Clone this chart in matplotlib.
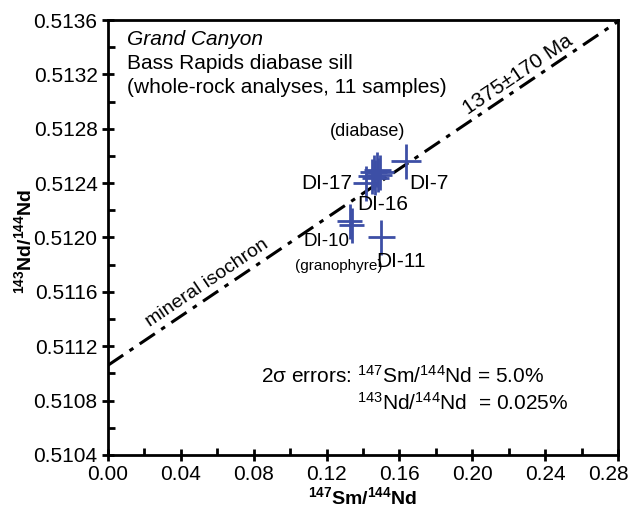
import numpy as np
import matplotlib
matplotlib.use('Agg')
import matplotlib.pyplot as plt
from matplotlib.ticker import MultipleLocator, FormatStrFormatter
from matplotlib.transforms import ScaledTranslation

plt.rcParams['font.family'] = ['Liberation Sans', 'DejaVu Sans']
plt.rcParams['mathtext.default'] = 'regular'

# Sm-Nd whole-rock data
sm_nd = [0.1414, 0.1447, 0.1458, 0.1468, 0.1479, 0.1485, 0.1496,  # diabase cluster
         0.1638,   # DI-7
         0.1501,   # DI-11
         0.1326, 0.1337]  # granophyre (DI-10)
nd_nd = [0.51240, 0.51245, 0.51248, 0.51244, 0.51250, 0.51246, 0.51248,
         0.51256,
         0.51200,
         0.51212, 0.51209]
sm_err_pct = 5.0
nd_err_pct = 0.025

age_ma = 1375
decay = 6.54e-12
intercept = 0.51106

x_ticks = [0.00, 0.04, 0.08, 0.12, 0.16, 0.20, 0.24, 0.28]
y_ticks = [0.5104, 0.5108, 0.5112, 0.5116, 0.5120, 0.5124, 0.5128, 0.5132, 0.5136]

blue = '#3d4fa6'

fig = plt.figure(figsize=(6.29, 5.07), dpi=100)
ax = fig.add_axes([108 / 629, 1 - 455 / 507, 510 / 629, 435 / 507])
ax.set_xlim(x_ticks[0], x_ticks[-1])
ax.set_ylim(y_ticks[0], y_ticks[-1])

x = np.array(sm_nd)
y = np.array(nd_nd)
ax.errorbar(x, y, xerr=x * sm_err_pct / 100, yerr=y * nd_err_pct / 100,
            fmt='none', ecolor=blue, elinewidth=2, capsize=0, zorder=3)

# isochron
slope = np.exp(decay * age_ma * 1e6) - 1
xl = np.array([0, 0.28])
ax.plot(xl, intercept + slope * xl, color='black', lw=2.2,
        linestyle=(0, (6, 2.5, 1.5, 2.5)), zorder=2)

# angle of the isochron on screen
p0 = ax.transData.transform((0, intercept))
p1 = ax.transData.transform((0.28, intercept + slope * 0.28))
ang = np.degrees(np.arctan2(p1[1] - p0[1], p1[0] - p0[0]))
for xt, txt, off, fs in [(0.058, 'mineral isochron', 3.0, 14), (0.229, '1375\u00b1170 Ma', 1.0, 15)]:
    ax.annotate(txt, xy=(xt, intercept + slope * xt), xytext=(-1.5, off),
                textcoords='offset points', rotation=ang, rotation_mode='anchor',
                ha='center', va='bottom', fontsize=fs)

# header text
ax.text(0.0105, 0.51346, 'Grand Canyon', style='italic', fontsize=15, va='center')
ax.text(0.0105, 0.51328, 'Bass Rapids diabase sill', fontsize=15, va='center')
ax.text(0.0105, 0.51310, '(whole-rock analyses, 11 samples)', fontsize=15, va='center')

# sample labels
ax.text(0.1425, 0.51278, '(diabase)', fontsize=13, ha='center', va='center')
ax.text(0.1340, 0.51240, 'DI-17', fontsize=15, ha='right', va='center')
ax.text(0.1510, 0.51224, 'DI-16', fontsize=15, ha='center', va='center')
ax.text(0.1760, 0.51240, 'DI-7', fontsize=15, ha='center', va='center')
ax.text(0.1200, 0.51197, 'DI-10', fontsize=13.5, ha='center', va='center')
ax.text(0.1265, 0.51179, '(granophyre)', fontsize=11, ha='center', va='center')
ax.text(0.1610, 0.51182, 'DI-11', fontsize=15, ha='center', va='center')

ax.text(0.0840, 0.51098, '2\u03c3 errors: $^{147}$Sm/$^{144}$Nd = 5.0%', fontsize=15, va='center')
ax.text(0.1367, 0.51078, '$^{143}$Nd/$^{144}$Nd  = 0.025%', fontsize=15, va='center')

ax.set_xticks(x_ticks)
ax.set_yticks(y_ticks)
ax.xaxis.set_major_formatter(FormatStrFormatter('%.2f'))
ax.yaxis.set_major_formatter(FormatStrFormatter('%.4f'))
ax.xaxis.set_minor_locator(MultipleLocator(0.02))
ax.yaxis.set_minor_locator(MultipleLocator(0.0002))
ax.tick_params(which='major', direction='inout', length=9, width=2, labelsize=15, pad=3)
ax.tick_params(which='minor', direction='in', length=5, width=2)
for s in ax.spines.values():
    s.set_linewidth(2)

# last x label pulled inside the figure
last = ax.get_xticklabels()[-1]
last.set_transform(last.get_transform() + ScaledTranslation(-10 / 100, 0, fig.dpi_scale_trans))

ax.set_xlabel('$^{147}$Sm/$^{144}$Nd', fontsize=14, fontweight='bold')
ax.xaxis.set_label_coords(0.5, -0.071)
ax.set_ylabel('$^{143}$Nd/$^{144}$Nd', fontsize=14, fontweight='bold')
ax.yaxis.set_label_coords(-0.143, 0.49)

fig.savefig('out.png', dpi=100)
plt.close(fig)
